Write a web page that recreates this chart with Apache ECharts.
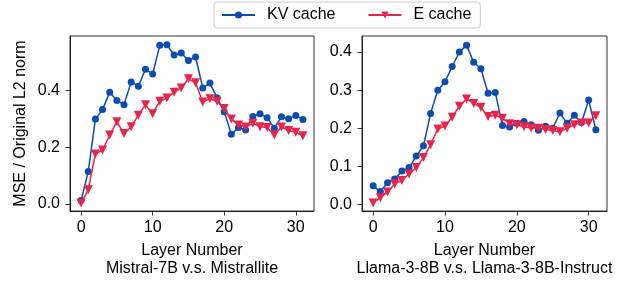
<!DOCTYPE html>
<html>
<head>
<meta charset="utf-8">
<script src="https://cdn.jsdelivr.net/npm/echarts@6/dist/echarts.min.js"></script>
<style>
	html, body { margin: 0; padding: 0; background: #fff; }
	#chart { width: 630px; height: 283px; }
</style>
</head>
<body>
<div id="chart"></div>
<script>
const layers = Array.from({ length: 32 }, (_, i) => i);

// Mistral-7B v.s. Mistrallite
const mistralKV = [
	0.012, 0.114, 0.299, 0.333, 0.394, 0.365, 0.350, 0.430,
	0.415, 0.475, 0.458, 0.559, 0.561, 0.525, 0.532, 0.506,
	0.518, 0.409, 0.426, 0.374, 0.325, 0.246, 0.269, 0.261,
	0.308, 0.318, 0.304, 0.267, 0.307, 0.300, 0.312, 0.298
];
const mistralE = [
	0.003, 0.050, 0.176, 0.190, 0.243, 0.290, 0.248, 0.272,
	0.313, 0.350, 0.318, 0.362, 0.373, 0.394, 0.409, 0.441,
	0.427, 0.359, 0.371, 0.362, 0.336, 0.299, 0.278, 0.271,
	0.284, 0.272, 0.269, 0.243, 0.271, 0.259, 0.253, 0.240
];

// Llama-3-8B v.s. Llama-3-8B-Instruct
const llamaKV = [
	0.049, 0.034, 0.057, 0.067, 0.088, 0.097, 0.127, 0.154,
	0.239, 0.300, 0.322, 0.362, 0.400, 0.418, 0.373, 0.356,
	0.292, 0.294, 0.207, 0.203, 0.213, 0.218, 0.209, 0.195,
	0.205, 0.200, 0.240, 0.213, 0.234, 0.215, 0.274, 0.196
];
const llamaE = [
	0.004, 0.018, 0.033, 0.054, 0.063, 0.080, 0.097, 0.123,
	0.157, 0.198, 0.206, 0.229, 0.258, 0.277, 0.265, 0.255,
	0.231, 0.234, 0.226, 0.212, 0.209, 0.204, 0.201, 0.200,
	0.197, 0.194, 0.191, 0.200, 0.209, 0.214, 0.214, 0.233
];

const xTicks = [0, 10, 20, 30];
const leftYTicks = [0.0, 0.2, 0.4];
const rightYTicks = [0.0, 0.1, 0.2, 0.3, 0.4];
const subtitles = ['Mistral-7B v.s. Mistrallite', 'Llama-3-8B v.s. Llama-3-8B-Instruct'];

const blue = '#0a4cb2';
const red = '#e8244b';
const font = 'Liberation Sans, Arial, sans-serif';
const fs = 16;

function pairs(values) {
	return values.map((v, i) => [layers[i], v]);
}

function xAxisFor(idx) {
	return {
		type: 'value',
		gridIndex: idx,
		min: -1.55,
		max: 32.55,
		name: 'Layer Number\n' + subtitles[idx],
		nameLocation: 'middle',
		nameGap: 31,
		nameTextStyle: { color: '#000', fontSize: fs, fontFamily: font, lineHeight: 18 },
		axisLine: { show: true, onZero: false, lineStyle: { color: '#000', width: 0.8 } },
		axisTick: { show: true, length: 4.5, customValues: xTicks, lineStyle: { color: '#000', width: 0.8 } },
		axisLabel: { customValues: xTicks, color: '#000', fontSize: fs, fontFamily: font, margin: 9 },
		splitLine: { show: false }
	};
}

function yAxisFor(idx, min, max, ticks) {
	return {
		type: 'value',
		gridIndex: idx,
		min: min,
		max: max,
		axisLine: { show: true, onZero: false, lineStyle: { color: '#000', width: 0.8 } },
		axisTick: { show: true, length: 4.5, customValues: ticks, lineStyle: { color: '#000', width: 0.8 } },
		axisLabel: {
			customValues: ticks, color: '#000', fontSize: fs, fontFamily: font, margin: 10,
			formatter: (v) => v.toFixed(1)
		},
		splitLine: { show: false }
	};
}

function lineSeries(name, idx, values) {
	const isKV = name === 'KV cache';
	return {
		name: name,
		type: 'line',
		xAxisIndex: idx,
		yAxisIndex: idx,
		data: pairs(values),
		symbol: isKV ? 'circle' : 'triangle',
		symbolRotate: isKV ? 0 : 180,
		symbolSize: isKV ? 7 : 9,
		color: isKV ? blue : red,
		lineStyle: { width: 1.5 },
		itemStyle: { borderWidth: 0 },
		z: isKV ? 2 : 3,
		animation: false
	};
}

const chart = echarts.init(document.getElementById('chart'));

const leftY = yAxisFor(0, -0.025, 0.592, leftYTicks);
leftY.name = 'MSE / Original L2 norm';
leftY.nameLocation = 'middle';
leftY.nameGap = 41;
leftY.nameTextStyle = { color: '#000', fontSize: fs, fontFamily: font };

const option = {
	animation: false,
	legend: {
		left: 214,
		top: 2,
		padding: [5, 9, 5, 7],
		itemWidth: 33,
		itemHeight: 9,
		itemGap: 32,
		borderColor: '#cccccc',
		borderWidth: 1,
		borderRadius: 3,
		textStyle: { color: '#000', fontSize: fs, fontFamily: font, padding: [0, 0, 0, 7] },
		data: ['KV cache', 'E cache']
	},
	grid: [
		{ left: 70, top: 36, width: 244, height: 178, show: true, borderColor: '#000', borderWidth: 0.8 },
		{ left: 362, top: 36, width: 245, height: 178, show: true, borderColor: '#000', borderWidth: 0.8 }
	],
	xAxis: [xAxisFor(0), xAxisFor(1)],
	yAxis: [leftY, yAxisFor(1, -0.017, 0.442, rightYTicks)],
	series: [
		lineSeries('KV cache', 0, mistralKV),
		lineSeries('E cache', 0, mistralE),
		lineSeries('KV cache', 1, llamaKV),
		lineSeries('E cache', 1, llamaE)
	]
};

chart.setOption(option);
</script>
</body>
</html>
